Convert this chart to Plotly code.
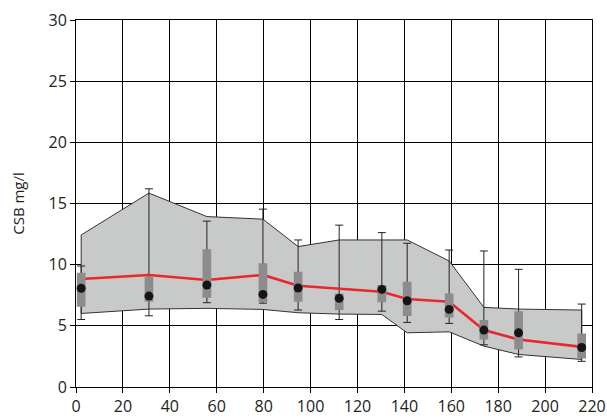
import plotly.graph_objects as go

# Data
x_pos = [2.2, 31.1, 55.8, 79.7, 94.7, 112.2, 130.4, 141.2, 159.1, 173.9, 188.7, 215.6]
mean_vals = [8.07, 7.43, 8.34, 7.57, 8.09, 7.25, 7.98, 7.05, 6.34, 4.65, 4.43, 3.23]
median_vals = [8.83, 9.16, 8.75, 9.16, 8.28, 8.07, 7.79, 7.19, 6.97, 4.65, 3.88, 3.28]
q3_vals = [9.34, 9.02, 11.27, 10.11, 9.43, 7.65, 8.34, 8.61, 7.65, 5.47, 6.20, 4.37]
q1_vals = [6.57, 6.97, 7.30, 6.92, 6.97, 6.29, 6.92, 5.80, 5.69, 3.88, 3.07, 2.33]
max_vals = [9.89, 16.20, 13.56, 14.54, 12.02, 13.23, 12.62, 11.75, 11.20, 11.12, 9.62, 6.78]
min_vals = [5.52, 5.82, 6.89, 6.85, 6.29, 5.52, 6.20, 5.28, 5.20, 3.45, 2.46, 2.10]
band_upper = [12.43, 15.85, 13.93, 13.72, 11.48, 12.02, 12.02, 12.02, 10.30, 6.51, 6.37, 6.29]
band_lower = [6.01, 6.37, 6.43, 6.34, 6.07, 5.96, 5.93, 4.43, 4.51, 3.34, 2.66, 2.25]
x_ticks = list(range(0, 221, 20))
y_ticks = list(range(0, 31, 5))

box_half = 1.85

fig = go.Figure()

# Envelope band
band_x = x_pos + x_pos[::-1] + [x_pos[0]]
band_y = band_upper + band_lower[::-1] + [band_upper[0]]
fig.add_trace(go.Scatter(
    x=band_x, y=band_y, mode="lines", fill="toself",
    fillcolor="#c8c9c9", line=dict(color="#333333", width=1),
    hoverinfo="skip", showlegend=False))

# Whiskers (min-max)
fig.add_trace(go.Scatter(
    x=x_pos, y=mean_vals, mode="markers",
    marker=dict(size=1, color="rgba(0,0,0,0)"),
    error_y=dict(type="data", symmetric=False,
                 array=[mx - m for mx, m in zip(max_vals, mean_vals)],
                 arrayminus=[m - mn for mn, m in zip(min_vals, mean_vals)],
                 color="#222222", thickness=1, width=4),
    hoverinfo="skip", showlegend=False))

# Median line (red)
fig.add_trace(go.Scatter(
    x=x_pos, y=median_vals, mode="lines",
    line=dict(color="#e8282b", width=2.6),
    hoverinfo="skip", showlegend=False))

# Boxes (q1-q3)
bx, by = [], []
for xv, lo, hi in zip(x_pos, q1_vals, q3_vals):
    bx += [xv - box_half, xv + box_half, xv + box_half, xv - box_half, xv - box_half, None]
    by += [lo, lo, hi, hi, lo, None]
fig.add_trace(go.Scatter(
    x=bx, y=by, mode="lines", fill="toself",
    fillcolor="#8c8c8c", line=dict(width=0, color="#8c8c8c"),
    hoverinfo="skip", showlegend=False))

# Mean dots
fig.add_trace(go.Scatter(
    x=x_pos, y=mean_vals, mode="markers",
    marker=dict(size=9, color="#151515"),
    hoverinfo="skip", showlegend=False))

font_family = "Open Sans, DejaVu Sans, sans-serif"

fig.update_layout(
    width=607, height=419,
    margin=dict(l=76, r=15, t=20, b=32),
    paper_bgcolor="white", plot_bgcolor="white",
    font=dict(family=font_family, size=16, color="#222222"),
    showlegend=False,
    xaxis=dict(
        range=[0, 220], tickvals=x_ticks, ticktext=[str(v) for v in x_ticks],
        showgrid=True, gridcolor="#000000", gridwidth=1,
        showline=True, linecolor="#000000", linewidth=1, mirror=True,
        ticks="outside", ticklen=5, tickcolor="#000000",
        zeroline=False, tickfont=dict(size=16), automargin=False,
    ),
    yaxis=dict(
        range=[0, 30], tickvals=y_ticks, ticktext=[str(v) for v in y_ticks],
        showgrid=True, gridcolor="#000000", gridwidth=1,
        showline=True, linecolor="#000000", linewidth=1, mirror=True,
        ticks="outside", ticklen=5, tickcolor="#000000",
        zeroline=False, tickfont=dict(size=16), automargin=False,
        title=dict(text="CSB mg/l", font=dict(size=15), standoff=20),
    ),
)

fig.write_html("out.html")
